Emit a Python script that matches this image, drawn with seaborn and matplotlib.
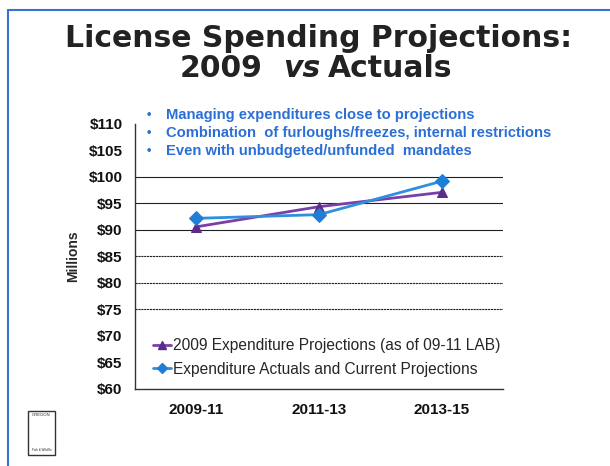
import matplotlib
matplotlib.use("Agg")
import matplotlib.pyplot as plt
import seaborn as sns
import pandas as pd
from matplotlib.patches import Rectangle
from matplotlib.lines import Line2D

periods = ["2009-11", "2011-13", "2013-15"]
projections_2009 = [90.6, 94.4, 97.1]
actuals_current = [92.2, 92.9, 99.2]
series_names = ["2009 Expenditure Projections (as of 09-11 LAB)",
                "Expenditure Actuals and Current Projections"]
y_ticks = [60, 65, 70, 75, 80, 85, 90, 95, 100, 105, 110]
bullets = ["Managing expenditures close to projections",
           "Combination  of furloughs/freezes, internal restrictions",
           "Even with unbudgeted/unfunded  mandates"]

sns.set_theme(style="white")
plt.rcParams['font.family'] = ['Liberation Sans', 'DejaVu Sans']

df = pd.DataFrame({
    "x": list(range(len(periods))) * 2,
    "value": projections_2009 + actuals_current,
    "series": [series_names[0]] * 3 + [series_names[1]] * 3,
})

W, H = 610, 466
fig = plt.figure(figsize=(W / 100, H / 100), dpi=100)
ax = fig.add_axes([135 / W, 1 - 389 / H, 368 / W, 265 / H])

purple_line = "#7A3FA8"
purple_mk = "#5B2D8A"
blue_line = "#2F8FDF"
blue_mk = "#1F7FD8"

ax.set_ylim(60, 110)
ax.set_xlim(-0.5, 2.5)
for v in y_ticks[3:9]:
    ax.axhline(v, color="#222222", lw=0.8, zorder=1,
               ls="-" if v >= 90 else (0, (2, 0.6)))

sns.lineplot(data=df, x="x", y="value", hue="series", style="series",
             palette={series_names[0]: purple_line, series_names[1]: blue_line},
             markers={series_names[0]: "^", series_names[1]: "D"},
             dashes=False, markersize=7, lw=2, ax=ax, legend=False, zorder=3)
for ln, mc in zip(ax.lines[-2:], [purple_mk, blue_mk]):
    ln.set_markerfacecolor(mc)
    ln.set_markeredgecolor(mc)

ax.set_yticks(y_ticks)
ax.set_yticklabels([f"${v}" for v in y_ticks], fontsize=11, fontweight="bold", color="#111111")
ax.set_xticks(range(len(periods)))
ax.set_xticklabels(periods, fontsize=11, fontweight="bold", color="#111111")
ax.set_xticks([-0.5, 0.5, 1.5, 2.5], minor=True)
ax.tick_params(axis="x", which="major", length=0, pad=10)
ax.tick_params(axis="x", which="minor", length=5, width=1, direction="out", color="#333333")
ax.tick_params(axis="y", length=6, width=1, direction="inout", color="#333333", pad=6)
ax.set_xlabel("")
ax.set_ylabel("Millions", fontsize=10, fontweight="bold", labelpad=6)
for s in ["top", "right"]:
    ax.spines[s].set_visible(False)
for s in ["left", "bottom"]:
    ax.spines[s].set_color("#333333")
    ax.spines[s].set_linewidth(1)

handles = [Line2D([], [], color=purple_line, lw=2, marker="^", markersize=6,
                  markerfacecolor=purple_mk, markeredgecolor=purple_mk),
           Line2D([], [], color=blue_line, lw=2, marker="D", markersize=5,
                  markerfacecolor=blue_mk, markeredgecolor=blue_mk)]
leg = ax.legend(handles, series_names, loc="lower left", bbox_to_anchor=(0.04, 0.035),
                frameon=True, fontsize=11.2, handlelength=1.2, handletextpad=0.1,
                borderpad=0.2, labelspacing=0.55, borderaxespad=0)
leg.get_frame().set_facecolor("white")
leg.get_frame().set_edgecolor("white")
leg.get_frame().set_alpha(1)

for i, b in enumerate(bullets):
    y = 1 - (115 + 18 * i) / H
    fig.text(149 / W, y, "\u2022", fontsize=9, color="#2B6FD6", fontweight="bold",
             ha="center", va="center")
    fig.text(166 / W, y, b, fontsize=10.6, color="#2B6FD6", fontweight="bold",
             va="center", bbox=dict(facecolor="white", edgecolor="none", pad=1))

tkw = dict(fontsize=21.5, fontweight="bold", color="#222222", family="DejaVu Sans",
           va="baseline")
fig.text(0.5 + 14 / W, 1 - 47 / H, "License Spending Projections:", ha="center", **tkw)
fig.text(263 / W, 1 - 77 / H, "2009", ha="right", **tkw)
fig.text(283 / W, 1 - 77 / H, "vs", ha="left", style="italic", **tkw)
fig.text(452 / W, 1 - 77 / H, "Actuals", ha="right", **tkw)

# blue frame (left and top)
fig.add_artist(Line2D([8 / W, 8 / W], [0, 1 - 10 / H], color="#3A6FD8", lw=1.5))
fig.add_artist(Line2D([8 / W, 1], [1 - 10 / H, 1 - 10 / H], color="#3A6FD8", lw=1.5))

# logo placeholder
fig.add_artist(Rectangle((28 / W, 1 - 455 / H), 27 / W, 44 / H, transform=fig.transFigure,
                         facecolor="white", edgecolor="#333333", lw=1))
fig.text(41.5 / W, 1 - 415 / H, "OREGON", fontsize=3, ha="center", va="center")
fig.text(41.5 / W, 1 - 450 / H, "Fish & Wildlife", fontsize=2.2, ha="center", va="center")

fig.savefig("out.png", dpi=100)
